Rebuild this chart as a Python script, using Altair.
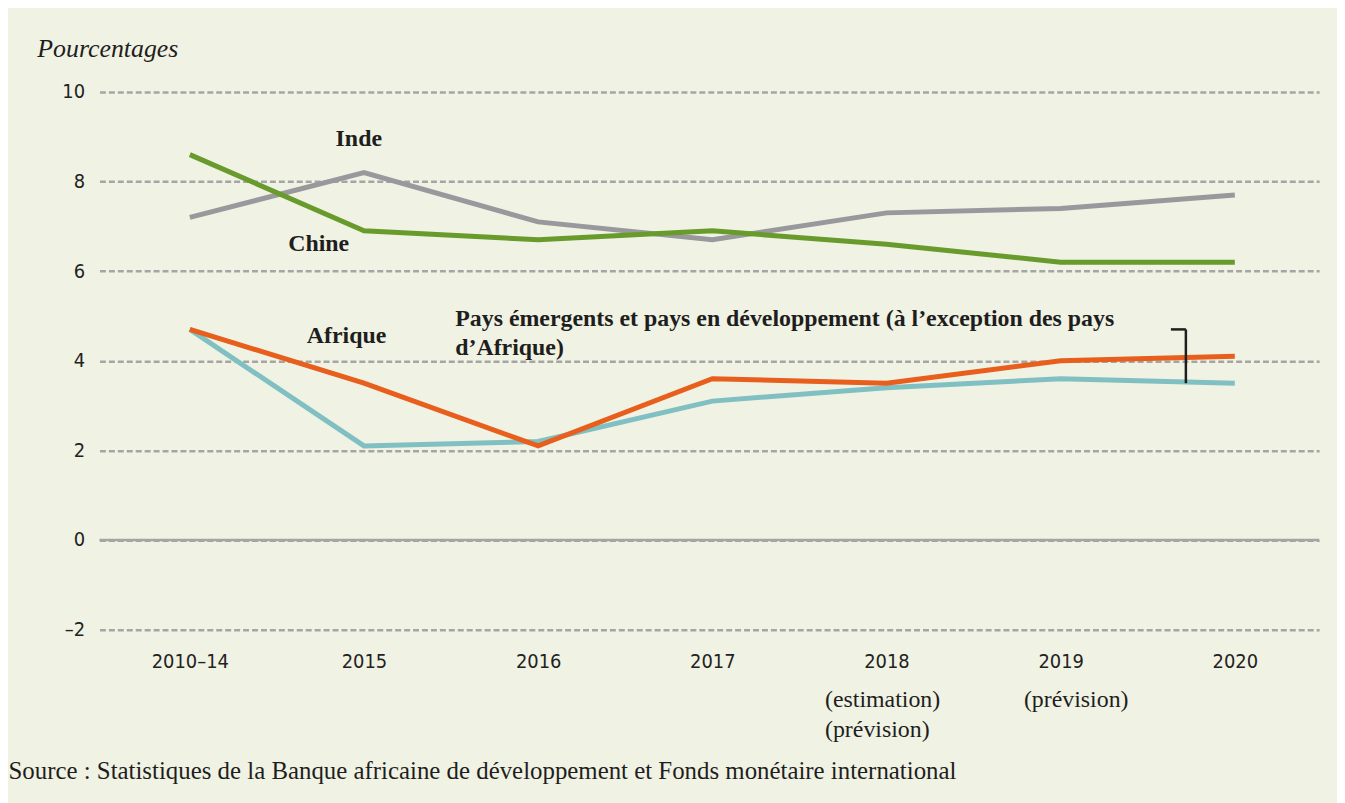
import json
import altair as alt
import pandas as pd

# ---- data ----
categories = ["2010–14", "2015", "2016", "2017", "2018", "2019", "2020"]
inde = [7.2, 8.2, 7.1, 6.7, 7.3, 7.4, 7.7]
chine = [8.6, 6.9, 6.7, 6.9, 6.6, 6.2, 6.2]
emergents = [4.7, 2.1, 2.2, 3.1, 3.4, 3.6, 3.5]
afrique = [4.7, 3.5, 2.1, 3.6, 3.5, 4.0, 4.1]

series_names = ["Inde", "Chine", "Pays émergents", "Afrique"]
series_values = [inde, chine, emergents, afrique]
series_colors = ["#99989d", "#689a2c", "#80c0c2", "#e85f1d"]

y_ticks = [-2, 0, 2, 4, 6, 8, 10]

# annotations (x in category index units, y in percent)
center_labels = ["Inde", "Chine", "Afrique"]
center_x = [0.97, 0.74, 0.90]
center_y = [8.94, 6.61, 4.55]

left_labels = ["Pays émergents et pays en développement (à l’exception des pays", "d’Afrique)"]
left_x = [1.524, 1.524]
left_y = [4.92, 4.29]

sub_labels = ["(estimation)", "(prévision)", "(prévision)"]
sub_x = [3.647, 3.647, 4.789]
sub_y = [-3.58, -4.24, -3.58]

bracket_x = [5.633, 5.719]
bracket_y = [4.70, 3.50]

source = "Source : Statistiques de la Banque africaine de développement et Fonds monétaire international"

SERIF = "Liberation Serif, Times New Roman, serif"
SANS = "Liberation Sans Narrow, DejaVu Sans Condensed, Liberation Sans, sans-serif"

xs = alt.Scale(domain=[-0.519, 6.484], nice=False, zero=False)
ys = alt.Scale(domain=[-2, 10], nice=False, zero=False)

label_expr = json.dumps(categories) + "[datum.value]"

x_axis = alt.Axis(
    values=list(range(len(categories))), labelExpr=label_expr,
    grid=False, domain=False, ticks=False, tickSize=0,
    labelPadding=32, labelBaseline="middle", labelFont=SANS, labelFontSize=20,
    labelColor="#222222", labelFlush=False, labelOverlap=False,
    title=source, titleX=-92, titleY=142, titleAlign="left", titleBaseline="middle",
    titleFont=SERIF, titleFontSize=25, titleFontWeight="normal", titleColor="#1e1e1e",
)
y_axis = alt.Axis(
    values=y_ticks, grid=True, gridDash=[6, 3], gridColor="#a5a5a5", gridWidth=2.5,
    domain=False, ticks=False, tickSize=0, labelPadding=15, labelFont=SANS,
    labelFontSize=20, labelColor="#222222",
    labelExpr="datum.value < 0 ? '–' + abs(datum.value) : datum.label",
    title="Pourcentages", titleAngle=0, titleAlign="left", titleBaseline="middle",
    titleX=-63, titleY=-44, titleFont=SERIF, titleFontStyle="italic",
    titleFontWeight="normal", titleFontSize=26, titleColor="#1e1e1e",
)

X = alt.X("x:Q", scale=xs, axis=x_axis)
Y = alt.Y("y:Q", scale=ys, axis=y_axis)

layers = []

zero_df = pd.DataFrame({"y": [0]})
layers.append(alt.Chart(zero_df).mark_rule(color="#a5a5a5", strokeWidth=2.5).encode(y=Y))

for name, vals, col in zip(series_names, series_values, series_colors):
    df = pd.DataFrame({"x": list(range(len(categories))), "y": vals, "serie": name})
    layers.append(
        alt.Chart(df).mark_line(color=col, strokeWidth=5, strokeJoin="miter", strokeCap="butt").encode(x=X, y=Y)
    )

cdf = pd.DataFrame({"x": center_x, "y": center_y, "t": center_labels})
layers.append(
    alt.Chart(cdf).mark_text(font=SERIF, fontSize=24, fontWeight="bold", color="#1e1e1e",
                             align="center", baseline="middle").encode(x=X, y=Y, text="t:N")
)
ldf = pd.DataFrame({"x": left_x, "y": left_y, "t": left_labels})
layers.append(
    alt.Chart(ldf).mark_text(font=SERIF, fontSize=24, fontWeight="bold", color="#1e1e1e",
                             align="left", baseline="middle").encode(x=X, y=Y, text="t:N")
)
sdf = pd.DataFrame({"x": sub_x, "y": sub_y, "t": sub_labels})
layers.append(
    alt.Chart(sdf).mark_text(font=SERIF, fontSize=24, fontWeight="normal", color="#1e1e1e",
                             align="left", baseline="middle").encode(x=X, y=Y, text="t:N")
)

bh = pd.DataFrame({"x": [bracket_x[0]], "x2": [bracket_x[1]], "y": [bracket_y[0]]})
layers.append(alt.Chart(bh).mark_rule(color="#1e1e1e", strokeWidth=2.5).encode(x=X, x2="x2:Q", y=Y))
bv = pd.DataFrame({"x": [bracket_x[1]], "y": [bracket_y[0]], "y2": [bracket_y[1]]})
layers.append(alt.Chart(bv).mark_rule(color="#1e1e1e", strokeWidth=2.5).encode(x=X, y=Y, y2="y2:Q"))

chart = alt.layer(*layers).properties(
    width=1227, height=541,
    autosize=alt.AutoSizeParams(type="none"),
    padding={"left": 92, "top": 82, "right": 18, "bottom": 172},
    background="#f0f2e3",
).configure_view(stroke=None)

chart.save("out.html", embed_options={"renderer": "svg", "actions": False})
